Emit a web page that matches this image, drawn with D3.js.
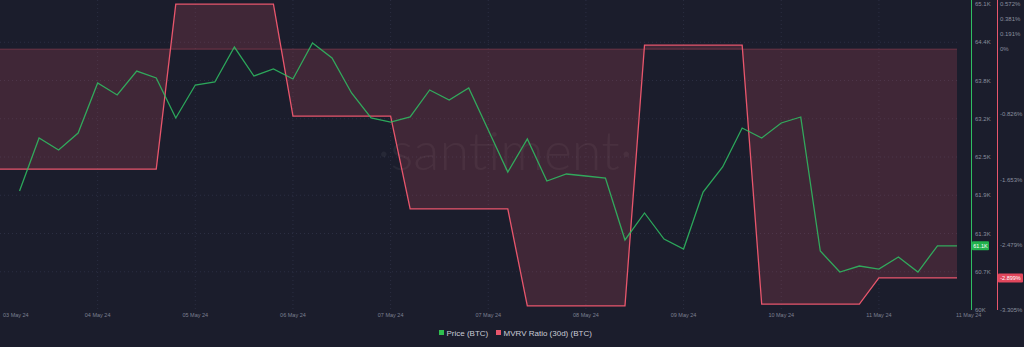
<!DOCTYPE html>
<html>
<head>
<meta charset="utf-8">
<script src="https://cdn.jsdelivr.net/npm/d3@7"></script>
<style>
  html, body { margin: 0; padding: 0; background: #1b1d2c; }
  svg { display: block; font-family: "Liberation Sans", Arial, sans-serif; }
</style>
</head>
<body>
<script>
// price every 4h (index 0..48), mvrv daily value repeated (index -1..48)
var priceValues = [61983, 62867, 62667, 62950, 63783, 63583, 63983, 63867, 63200, 63750,
  63800, 64383, 63900, 64017, 63850, 64450, 64200, 63617, 63200, 63133,
  63217, 63667, 63500, 63700, 63000, 62300, 62850, 62150, 62267, 62233,
  62200, 61167, 61617, 61183, 61017, 61967, 62383, 63033, 62867, 63117,
  63217, 60983, 60633, 60733, 60683, 60883, 60633, 61070, 61070];
var mvrvDaily = [-1.519, 0.57, -0.848, -2.025, -3.253, 0.05, -3.23, -2.899];
var mvrvRepeat = [9, 6, 6, 6, 6, 6, 6, 5];
var dateLabels = ["03 May 24", "04 May 24", "05 May 24", "06 May 24", "07 May 24", "07 May 24",
  "08 May 24", "09 May 24", "10 May 24", "11 May 24", "11 May 24"];
var dateIndex = [-1, 4, 9, 14, 19, 24, 29, 34, 39, 44, 48.6];
var priceTicks = [60000, 60637.5, 61275, 61912.5, 62550, 63187.5, 63825, 64462.5, 65100];
var priceTickLabels = ["60K", "60.7K", "61.3K", "61.9K", "62.5K", "63.2K", "63.8K", "64.4K", "65.1K"];
var mvrvTicks = [0.572, 0.381, 0.191, 0, -0.826, -1.653, -2.479, -3.305];
var mvrvTickLabels = ["0.572%", "0.381%", "0.191%", "0%", "-0.826%", "-1.653%", "-2.479%", "-3.305%"];

var width = 1024, height = 347;
var green = "#2fbf63", red = "#e8566c";

var price = priceValues.map((v, i) => ({ i: i, v: v }));
var mvrv = [];
mvrvDaily.forEach((v, k) => {
  for (var j = 0; j < mvrvRepeat[k]; j++) mvrv.push({ i: mvrv.length - 1, v: v });
});

var x = d3.scaleLinear().domain([-1, 48]).range([0, 957]);
var yPrice = d3.scaleLinear().domain([60000, 65100]).range([310, 4]);
var yMvrv = d3.scaleLinear().domain([-3.305, 0.572]).range([310, 4]);

var svg = d3.select("body").append("svg")
    .attr("width", width)
    .attr("height", height);

svg.append("rect").attr("width", width).attr("height", height).attr("fill", "#1b1d2c");

// grid
var grid = svg.append("g")
    .attr("stroke", "#2b2e42")
    .attr("stroke-dasharray", "1,3");
grid.selectAll("line.h")
    .data(priceTicks.slice(1, -1))
    .enter().append("line")
      .attr("x1", 0).attr("x2", 957)
      .attr("y1", d => yPrice(d)).attr("y2", d => yPrice(d));
grid.selectAll("line.v")
    .data(dateIndex.slice(1, -1))
    .enter().append("line")
      .attr("y1", 0).attr("y2", 310)
      .attr("x1", d => x(d)).attr("x2", d => x(d));

// watermark
svg.append("text")
    .attr("x", 505).attr("y", 170)
    .attr("text-anchor", "middle")
    .attr("font-family", "Lato, sans-serif")
    .attr("font-weight", 300)
    .attr("font-size", 54)
    .attr("fill", "#ffffff")
    .attr("fill-opacity", 0.05)
    .text("·santiment·");

// mvrv area against 0%
var area = d3.area()
    .x(d => x(d.i))
    .y0(yMvrv(0))
    .y1(d => yMvrv(d.v));
svg.append("path")
    .datum(mvrv)
    .attr("d", area)
    .attr("fill", red)
    .attr("fill-opacity", 0.18);
svg.append("line")
    .attr("x1", 0).attr("x2", 957)
    .attr("y1", yMvrv(0)).attr("y2", yMvrv(0))
    .attr("stroke", red).attr("stroke-opacity", 0.35);
svg.append("path")
    .datum(mvrv)
    .attr("d", d3.line().x(d => x(d.i)).y(d => yMvrv(d.v)))
    .attr("fill", "none")
    .attr("stroke", red)
    .attr("stroke-width", 1.3);

// price line
svg.append("path")
    .datum(price)
    .attr("d", d3.line().x(d => x(d.i)).y(d => yPrice(d.v)))
    .attr("fill", "none")
    .attr("stroke", green)
    .attr("stroke-opacity", 0.85)
    .attr("stroke-width", 1.3);

// right axes
svg.append("line").attr("x1", 971.5).attr("x2", 971.5).attr("y1", 0).attr("y2", 310)
    .attr("stroke", green).attr("stroke-width", 1);
svg.append("line").attr("x1", 997.5).attr("x2", 997.5).attr("y1", 0).attr("y2", 310)
    .attr("stroke", red).attr("stroke-width", 1);

svg.append("g").selectAll("text")
    .data(priceTicks)
    .enter().append("text")
      .attr("x", 975)
      .attr("y", d => yPrice(d))
      .attr("dy", "0.35em")
      .attr("font-size", 6)
      .attr("fill", "#8a8e9e")
      .text((d, i) => priceTickLabels[i]);

svg.append("g").selectAll("text")
    .data(mvrvTicks)
    .enter().append("text")
      .attr("x", 1000)
      .attr("y", d => yMvrv(d))
      .attr("dy", "0.35em")
      .attr("font-size", 6)
      .attr("fill", "#8a8e9e")
      .text((d, i) => mvrvTickLabels[i]);

// last value badges
var lastP = priceValues[priceValues.length - 1];
svg.append("rect").attr("x", 972).attr("y", yPrice(lastP) - 4.5)
    .attr("width", 17).attr("height", 9).attr("rx", 1).attr("fill", "#22b14c");
svg.append("text").attr("x", 980.5).attr("y", yPrice(lastP)).attr("dy", "0.35em")
    .attr("text-anchor", "middle").attr("font-size", 5.5).attr("fill", "#ffffff")
    .text((lastP / 1000).toFixed(1) + "K");
var lastM = mvrvDaily[mvrvDaily.length - 1];
svg.append("rect").attr("x", 998).attr("y", yMvrv(lastM) - 4.5)
    .attr("width", 25).attr("height", 9).attr("rx", 1).attr("fill", "#e2475c");
svg.append("text").attr("x", 1010.5).attr("y", yMvrv(lastM)).attr("dy", "0.35em")
    .attr("text-anchor", "middle").attr("font-size", 5.5).attr("fill", "#ffffff")
    .text(lastM.toFixed(3) + "%");

// date labels (first one pinned to the left edge)
svg.append("g").selectAll("text")
    .data(dateIndex)
    .enter().append("text")
      .attr("x", (d, i) => i === 0 ? x(d) + 3 : x(d))
      .attr("y", 315)
      .attr("dy", "0.35em")
      .attr("text-anchor", (d, i) => i === 0 ? "start" : "middle")
      .attr("font-size", 5.5)
      .attr("fill", "#7c8091")
      .text((d, i) => dateLabels[i]);

// legend
var legend = svg.append("g").attr("font-size", 8).attr("fill", "#c9ccd6");
var items = [{ label: "Price (BTC)", color: "#2fbf4f", x: 439 }, { label: "MVRV Ratio (30d) (BTC)", color: "#e8566c", x: 496 }];
items.forEach(it => {
  legend.append("rect").attr("x", it.x).attr("y", 330).attr("width", 5).attr("height", 5).attr("fill", it.color);
  legend.append("text").attr("x", it.x + 7.5).attr("y", 333).attr("dy", "0.35em").text(it.label);
});
</script>
</body>
</html>
